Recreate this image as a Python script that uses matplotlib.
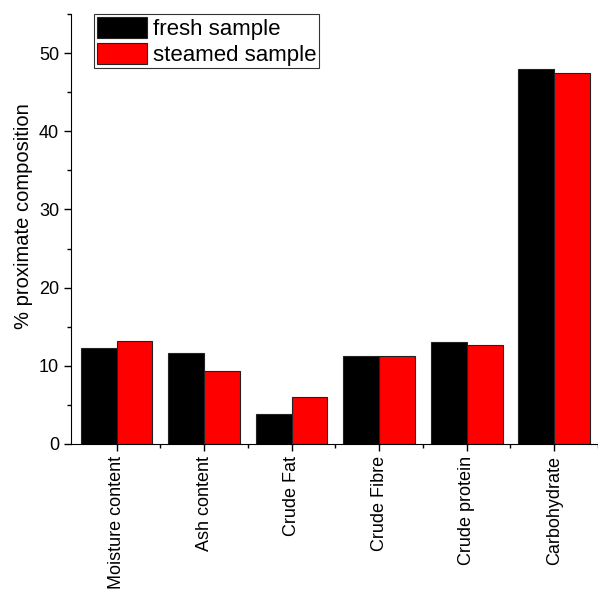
import numpy as np
import matplotlib
matplotlib.use("Agg")
import matplotlib.pyplot as plt
from matplotlib.ticker import MultipleLocator

plt.rcParams["font.family"] = ["Liberation Sans", "DejaVu Sans"]

categories = ["Moisture content", "Ash content", "Crude Fat", "Crude Fibre",
              "Crude protein", "Carbohydrate"]
fresh = [12.3, 11.7, 3.8, 11.3, 13.1, 47.9]
steamed = [13.2, 9.35, 6.05, 11.2, 12.65, 47.5]

fig = plt.figure(figsize=(5.98, 5.90), dpi=100)
ax = fig.add_axes([0.1187, 0.2475, 0.8813, 0.7288])

x = np.arange(len(categories))
w = 0.41
ax.bar(x - w / 2, fresh, w, color="black", edgecolor="#222", lw=0.8, label="fresh sample")
ax.bar(x + w / 2, steamed, w, color="#ff0000", edgecolor="#222", lw=0.8, label="steamed sample")

ax.set_xlim(-0.52, 5.42)
ax.set_ylim(0, 55)
for s in ["top", "right"]:
    ax.spines[s].set_visible(False)
ax.yaxis.set_major_locator(MultipleLocator(10))
ax.yaxis.set_minor_locator(MultipleLocator(5))
ax.set_xticks(x)
ax.set_xticks(x + 0.5, minor=True)
ax.set_xticklabels(categories, rotation=90, fontsize=13)
ax.tick_params(axis="y", labelsize=13)
ax.tick_params(which="major", direction="out", length=5, width=1)
ax.tick_params(which="minor", direction="out", length=3, width=1)
ax.set_ylabel("% proximate composition", fontsize=14.5)
ax.yaxis.set_label_coords(-0.072, 0.53)

leg = ax.legend(loc="upper left", bbox_to_anchor=(0.044, 1.0), fontsize=16,
                frameon=True, fancybox=False, edgecolor="black",
                handlelength=2.25, handleheight=1.1, handletextpad=0.27,
                borderpad=0.12, labelspacing=0.12, borderaxespad=0.0)
leg.get_frame().set_linewidth(0.8)

fig.savefig("out.png", dpi=100)
